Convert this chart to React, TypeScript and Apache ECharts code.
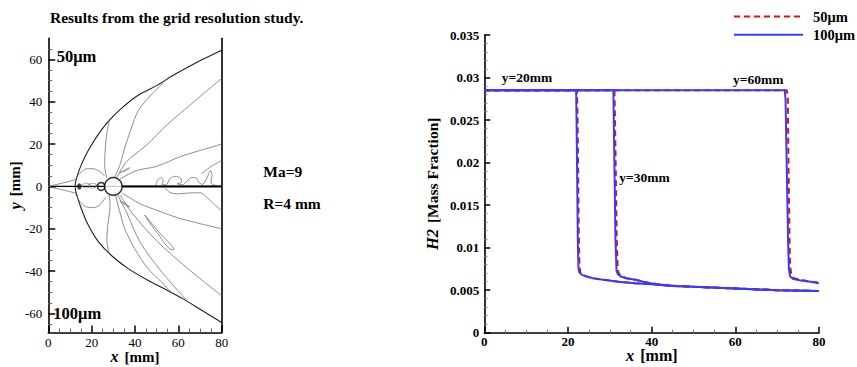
import React, { useEffect, useRef } from "react";
import * as echarts from "echarts";

const SERIF = "'Liberation Serif','Times New Roman',Times,serif";

// ---------------- Left panel: contour lines, [x mm, y mm] ----------------
const SHOCK_UPPER = [[12.3, 0], [12.9, 3.5], [15.2, 10.2], [18.3, 16.8], [22.9, 24.4], [27.5, 30.5], [33.6, 36.8], [41.3, 43], [50.6, 48], [57.6, 52.5], [68.4, 58.6], [80, 64.4]];
const SHOCK_LOWER = [[12.3, 0], [12.9, -3.2], [15.2, -10.4], [18.3, -18], [22.9, -25.8], [29, -32.5], [36.7, -38.7], [45.9, -44.3], [54.4, -48.8], [62, -53], [70, -58], [80, -64.3]];
const NOSE_UPPER = [[0, 0], [12.9, 3.2]];
const NOSE_LOWER = [[0, 0], [12.9, -3.2]];
const DOME_UPPER = [[12.6, 3.5], [14.5, 6.2], [17.5, 8.3], [20.5, 8.4], [23.5, 7.2], [26, 5]];
const DOME_LOWER = [[12.6, -3.5], [14.5, -7], [17.5, -9.6], [21, -10], [24, -8.5], [26.5, -5]];
const LINE_A_UPPER = [[27, 4], [26, 10], [26.3, 18], [27, 25], [28.2, 31.3]];
const LINE_B_UPPER = [[30.5, 4.2], [33, 10], [35.2, 18], [38.3, 27.5], [41.3, 35.4], [46, 41.7], [53, 49]];
const LINE_C_UPPER = [[31.5, 4], [36, 11.6], [45.3, 19.5], [54.6, 29], [65.3, 38.4], [80, 51]];
const LINE_D_UPPER = [[33, 3.5], [40.7, 7.5], [50, 9.5], [60.7, 14], [70, 17], [80, 20]];
const LINE_E_UPPER = [[70.5, 6], [75, 9.3], [80, 12.4]];
const WAKE_UPPER = [[49.5, 0.3], [50.5, 3], [52, 4.2], [53, 2.5], [52.5, 1], [54.5, 0.8], [56, 3.5], [58.5, 4.8], [61, 4], [61.5, 2], [59.5, 1.3], [62, 0.8], [64, 2.5], [66, 4.2], [68.5, 3.8], [69.5, 2], [71, 1], [72.5, 2.5], [74, 6], [74.8, 7.6], [75.5, 5], [75, 2], [76.5, 0.7], [78, 0.4]];
const LINE_A_LOWER = [[28, -4], [28.5, -9], [27.5, -18], [27, -25], [28, -31.5]];
const LINE_B1_LOWER = [[31, -4], [33, -12], [35.2, -19.8], [39.8, -29.3], [45.9, -38.7], [52.1, -45], [56, -49.5]];
const LINE_B2_LOWER = [[32, -4], [36, -12], [42.3, -26.2], [52, -40], [63.8, -53.8]];
const LINE_C_LOWER = [[33, -4], [39, -13], [50, -25.7], [63.8, -38.3], [80, -51.7]];
const LINE_D_LOWER = [[34, -3], [42, -8], [52, -12], [62, -15.5], [80, -20]];
const LINE_E_LOWER = [[54, -0.8], [56, -2.8], [60, -3.5], [66, -3], [70, -3], [75, -7], [80, -11.5]];
const STREAK_LOWER = [[44.5, -13.5], [51, -21.5], [58, -29.8], [57.2, -29.9], [50.5, -22.3], [45, -14.5], [44.5, -13.5]];
const SMALL_LOOP_UPPER = [[33, 6.5], [36, 8.2], [37.5, 8.8], [36, 7.6], [33, 6.5]];
const SMALL_LOOP_LOWER = [[33, -7], [36, -9], [37.5, -9.6], [36, -8.3], [33, -7]];
const SYMMETRY_AXIS = [[0, 0], [80, 0]];
const WAKE_AXIS = [[34, 0], [80, 0]];
const CYLINDER = [[30, 0]];
const NOSE_BLOB = [[14.3, 0]];
const SMALL_RING = [[24.4, 0]];
const BUBBLES = [[17.5, 0.4], [20.5, 0.4]];

const LEFT_Y_MAJOR = [-60, -40, -20, 0, 20, 40, 60];
const LEFT_Y_MINOR = [-65, -55, -50, -45, -35, -30, -25, -15, -10, -5, 5, 10, 15, 25, 30, 35, 45, 50, 55, 65];

// ---------------- Right panel: H2 mass fraction vs x ----------------
const H2_50UM_Y20 = [[0, 0.0285], [22.15, 0.0285], [22.3, 0.025], [22.45, 0.018], [22.6, 0.011], [22.75, 0.0078], [22.95, 0.0071], [23.5, 0.0068], [24.5, 0.0066], [26, 0.0064], [28, 0.00625], [32, 0.006], [36, 0.0058], [40, 0.0057], [45, 0.0055], [50, 0.0054], [60, 0.0052], [70, 0.005], [80, 0.0049]];
const H2_50UM_Y30 = [[0, 0.0285], [31.1, 0.0285], [31.25, 0.025], [31.45, 0.018], [31.65, 0.011], [31.9, 0.0074], [32.2, 0.0069], [32.8, 0.0066], [34, 0.0064], [36.4, 0.0062], [38, 0.006], [40, 0.0058], [43, 0.0056], [46, 0.0055], [50, 0.0054], [60, 0.0052], [70, 0.005], [80, 0.0049]];
const H2_50UM_Y60 = [[0, 0.0285], [72.3, 0.0285], [72.55, 0.0278], [72.65, 0.022], [72.8, 0.0165], [72.95, 0.011], [73.1, 0.0078], [73.4, 0.0068], [74, 0.0064], [76, 0.0062], [78, 0.006], [80, 0.0059]];
const H2_100UM_Y20 = [[0, 0.0285], [21.95, 0.0285], [22.05, 0.025], [22.2, 0.018], [22.35, 0.011], [22.5, 0.0076], [22.7, 0.0071], [23.3, 0.0068], [24.5, 0.0066], [26, 0.0064], [28, 0.00625], [32, 0.006], [36, 0.0058], [40, 0.0057], [45, 0.0055], [50, 0.0054], [60, 0.0052], [70, 0.005], [80, 0.0049]];
const H2_100UM_Y30 = [[0, 0.0285], [30.85, 0.0285], [30.95, 0.025], [31.15, 0.018], [31.35, 0.011], [31.6, 0.0073], [31.9, 0.0069], [32.6, 0.0066], [34, 0.0064], [36.4, 0.0062], [38, 0.006], [40, 0.0058], [43, 0.0056], [46, 0.0055], [50, 0.0054], [60, 0.0052], [70, 0.005], [80, 0.0049]];
const H2_100UM_Y60 = [[0, 0.0285], [71.8, 0.0285], [72.0, 0.0275], [72.2, 0.022], [72.4, 0.0165], [72.6, 0.011], [72.8, 0.0075], [73.1, 0.0066], [73.9, 0.0063], [76, 0.0061], [78, 0.006], [80, 0.0058]];

const SERIES_NAMES = ["50\u03bcm", "100\u03bcm"];

function contour(data: number[][], color: string, width: number, z = 2) {
  return {
    type: "line",
    xAxisIndex: 0,
    yAxisIndex: 0,
    data,
    symbol: "none",
    showSymbol: false,
    smooth: 0.3,
    silent: true,
    z,
    lineStyle: { color, width },
  };
}

function h2Line(name: string, data: number[][], color: string, dashed: boolean) {
  return {
    type: "line",
    name,
    xAxisIndex: 1,
    yAxisIndex: 3,
    data,
    symbol: "none",
    showSymbol: false,
    silent: true,
    itemStyle: { color },
    lineStyle: { color, width: 2, type: dashed ? [6, 4] : "solid" },
  };
}

export default function App() {
  const ref = useRef<HTMLDivElement>(null);

  useEffect(() => {
    if (!ref.current) return;
    const chart = echarts.init(ref.current, null, { renderer: "svg" });
    const gray = "#707070";
    const dark = "#202020";
    const richName = (size: number) => ({
      fontFamily: SERIF,
      color: "#000",
      lineHeight: 16,
      rich: {
        i: { fontFamily: SERIF, fontStyle: "italic", fontWeight: "bold", fontSize: size + 1, color: "#000", lineHeight: 16 },
        n: { fontFamily: SERIF, fontWeight: "bold", fontSize: size, color: "#000", lineHeight: 16 },
      },
    });
    const option: any = {
      animation: false,
      backgroundColor: "#fff",
      grid: [
        { left: 48.3, top: 38.3, width: 173.4, height: 294.2, containLabel: false, outerBoundsMode: "none" },
        { left: 484.3, top: 35, width: 334.7, height: 297.7, containLabel: false, outerBoundsMode: "none" },
      ],
      legend: {
        data: SERIES_NAMES,
        orient: "vertical",
        left: 733,
        top: 9,
        padding: 0,
        itemWidth: 69,
        itemHeight: 14,
        itemGap: 3.3,
        itemStyle: { opacity: 0 },
        textStyle: { fontFamily: SERIF, fontWeight: "bold", fontSize: 14.5, color: "#000", padding: [0, 0, 0, 5] },
      },
      xAxis: [
        {
          gridIndex: 0,
          type: "value",
          min: 0,
          max: 80,
          interval: 20,
          name: "{i|x}  {n|[mm]}",
          nameLocation: "middle",
          nameGap: 16,
          nameMoveOverlap: false,
          nameTextStyle: richName(15),
          axisLine: { show: true, onZero: false, lineStyle: { color: "#000", width: 1.6 } },
          axisTick: { show: true, inside: true, length: 7, lineStyle: { color: "#000", width: 1.5 } },
          minorTick: { show: true, splitNumber: 4, length: 4, lineStyle: { color: "#666", width: 1 } },
          axisLabel: { fontFamily: SERIF, fontSize: 13, color: "#000", margin: 3, lineHeight: 13 },
          splitLine: { show: false },
        },
        {
          gridIndex: 1,
          type: "value",
          min: 0,
          max: 80,
          interval: 20,
          name: "{i|x}  {n|[mm]}",
          nameLocation: "middle",
          nameGap: 15,
          nameMoveOverlap: false,
          nameTextStyle: richName(16),
          axisLine: { show: true, onZero: false, lineStyle: { color: "#000", width: 1.6 } },
          axisTick: { show: true, inside: true, length: 6, lineStyle: { color: "#000", width: 1.5 } },
          minorTick: { show: true, splitNumber: 4, length: 3, lineStyle: { color: "#777", width: 1 } },
          axisLabel: { fontFamily: SERIF, fontWeight: "bold", fontSize: 13, color: "#000", margin: 2, lineHeight: 13 },
          splitLine: { show: false },
        },
      ],
      yAxis: [
        {
          gridIndex: 0,
          type: "value",
          min: -69,
          max: 70,
          name: "{i|y}  {n|[mm]}",
          nameLocation: "middle",
          nameRotate: 90,
          nameGap: 25,
          nameMoveOverlap: false,
          nameTextStyle: richName(15),
          axisLine: { show: true, onZero: false, lineStyle: { color: "#000", width: 1.6 } },
          axisTick: { show: true, inside: true, length: 7, customValues: LEFT_Y_MAJOR, lineStyle: { color: "#000", width: 1.5 } },
          axisLabel: { customValues: LEFT_Y_MAJOR, fontFamily: SERIF, fontSize: 13, color: "#000", margin: 6 },
          splitLine: { show: false },
        },
        {
          gridIndex: 0,
          type: "value",
          min: -69,
          max: 70,
          position: "left",
          axisLine: { show: false, onZero: false },
          axisTick: { show: true, inside: true, length: 4, customValues: LEFT_Y_MINOR, lineStyle: { color: "#666", width: 1 } },
          axisLabel: { show: false },
          splitLine: { show: false },
        },
        {
          gridIndex: 0,
          type: "value",
          min: -69,
          max: 70,
          position: "right",
          axisLine: { show: true, onZero: false, lineStyle: { color: "#000", width: 1.6 } },
          axisTick: { show: false },
          axisLabel: { show: false },
          splitLine: { show: false },
        },
        {
          gridIndex: 1,
          type: "value",
          min: 0,
          max: 0.035,
          interval: 0.005,
          name: "{i|H2}  {n|[Mass Fraction]}",
          nameLocation: "middle",
          nameRotate: 90,
          nameGap: 44,
          nameMoveOverlap: false,
          nameTextStyle: richName(15.5),
          axisLine: { show: true, onZero: false, lineStyle: { color: "#000", width: 1.6 } },
          axisTick: { show: true, inside: true, length: 6, lineStyle: { color: "#000", width: 1.5 } },
          minorTick: { show: true, splitNumber: 5, length: 3, lineStyle: { color: "#777", width: 1 } },
          axisLabel: {
            fontFamily: SERIF,
            fontWeight: "bold",
            fontSize: 13,
            color: "#000",
            margin: 5,
            formatter: (v: number) => String(+v.toFixed(4)),
          },
          splitLine: { show: false },
        },
      ],
      series: [
        contour(SYMMETRY_AXIS, "#000", 1.2, 1),
        contour(SHOCK_UPPER, dark, 1.1),
        contour(SHOCK_LOWER, dark, 1.1),
        contour(NOSE_UPPER, gray, 0.8),
        contour(NOSE_LOWER, gray, 0.8),
        contour(DOME_UPPER, gray, 0.8),
        contour(DOME_LOWER, gray, 0.8),
        contour(LINE_A_UPPER, gray, 0.8),
        contour(LINE_B_UPPER, gray, 0.8),
        contour(LINE_C_UPPER, gray, 0.8),
        contour(LINE_D_UPPER, gray, 0.8),
        contour(LINE_E_UPPER, gray, 0.8),
        contour(WAKE_UPPER, gray, 0.8),
        contour(LINE_A_LOWER, gray, 0.8),
        contour(LINE_B1_LOWER, gray, 0.8),
        contour(LINE_B2_LOWER, gray, 0.8),
        contour(LINE_C_LOWER, gray, 0.8),
        contour(LINE_D_LOWER, gray, 0.8),
        contour(LINE_E_LOWER, gray, 0.8),
        contour(STREAK_LOWER, gray, 0.8),
        contour(SMALL_LOOP_UPPER, gray, 0.8),
        contour(SMALL_LOOP_LOWER, gray, 0.8),
        contour(WAKE_AXIS, "#000", 2, 3),
        {
          type: "scatter",
          xAxisIndex: 0,
          yAxisIndex: 0,
          data: BUBBLES,
          symbol: "circle",
          symbolSize: [8, 5],
          silent: true,
          z: 4,
          itemStyle: { color: "rgba(0,0,0,0)", borderColor: gray, borderWidth: 0.8 },
        },
        {
          type: "scatter",
          xAxisIndex: 0,
          yAxisIndex: 0,
          data: SMALL_RING,
          symbol: "circle",
          symbolSize: [7.5, 8],
          silent: true,
          z: 4,
          itemStyle: { color: "rgba(0,0,0,0)", borderColor: "#000", borderWidth: 1.5 },
        },
        {
          type: "scatter",
          xAxisIndex: 0,
          yAxisIndex: 0,
          data: NOSE_BLOB,
          symbol: "circle",
          symbolSize: [4.5, 6.5],
          silent: true,
          z: 4,
          itemStyle: { color: "#111" },
        },
        {
          type: "scatter",
          xAxisIndex: 0,
          yAxisIndex: 0,
          data: CYLINDER,
          symbol: "circle",
          symbolSize: 17.5,
          silent: true,
          z: 5,
          itemStyle: { color: "#fff", borderColor: "#000", borderWidth: 1.5 },
        },
        h2Line(SERIES_NAMES[0], H2_50UM_Y20, "#e01010", true),
        h2Line(SERIES_NAMES[0], H2_50UM_Y30, "#e01010", true),
        h2Line(SERIES_NAMES[0], H2_50UM_Y60, "#e01010", true),
        h2Line(SERIES_NAMES[1], H2_100UM_Y20, "#3a3aff", false),
        h2Line(SERIES_NAMES[1], H2_100UM_Y30, "#3a3aff", false),
        h2Line(SERIES_NAMES[1], H2_100UM_Y60, "#3a3aff", false),
      ],
      graphic: [
        { type: "text", x: 50, y: 17, style: { text: "Results from the grid resolution study.", font: `bold 15.5px ${SERIF}`, fill: "#000", verticalAlign: "middle" } },
        { type: "text", x: 56.7, y: 56, style: { text: "50\u03bcm", font: `bold 16.5px ${SERIF}`, fill: "#000", verticalAlign: "middle" } },
        { type: "text", x: 53.3, y: 313.3, style: { text: "100\u03bcm", font: `bold 16.5px ${SERIF}`, fill: "#000", verticalAlign: "middle" } },
        { type: "text", x: 263.3, y: 171.7, style: { text: "Ma=9", font: `bold 15.5px ${SERIF}`, fill: "#000", verticalAlign: "middle" } },
        { type: "text", x: 263.3, y: 203.3, style: { text: "R=4 mm", font: `bold 15.5px ${SERIF}`, fill: "#000", verticalAlign: "middle" } },
        { type: "text", x: 501.7, y: 77.3, style: { text: "y=20mm", font: `bold 13.5px ${SERIF}`, fill: "#000", verticalAlign: "middle" } },
        { type: "text", x: 733, y: 79, style: { text: "y=60mm", font: `bold 13.5px ${SERIF}`, fill: "#000", verticalAlign: "middle" } },
        { type: "text", x: 619.3, y: 177.3, style: { text: "y=30mm", font: `bold 13.5px ${SERIF}`, fill: "#000", verticalAlign: "middle" } },
      ],
    };
    chart.setOption(option);
    return () => chart.dispose();
  }, []);

  return (
    <div
      ref={ref}
      style={{ position: "fixed", left: 0, top: 0, width: 857, height: 367, background: "#fff" }}
    />
  );
}
